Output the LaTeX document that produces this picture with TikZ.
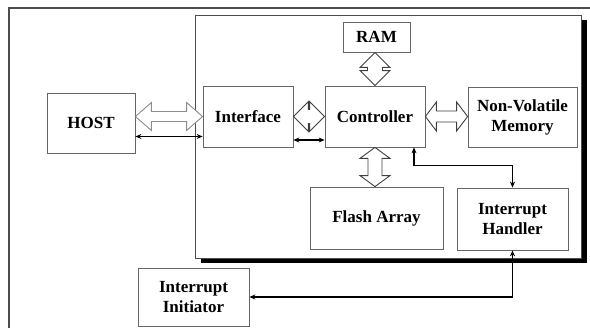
\documentclass[tikz,border=0pt]{standalone}
\usepackage{fontspec}
\setmainfont{Liberation Serif}
\usetikzlibrary{arrows.meta,calc}
\tikzset{
  blk/.style={draw=black!60, line width=0.8pt, minimum width=#1, inner sep=0pt, align=center,
     font=\fontsize{17}{20}\selectfont\bfseries},
  hollow/.style={draw=black!75, line width=0.9pt, line join=miter, fill=white},
  wire/.style={draw=black, line width=1.3pt, {Stealth[length=6pt,width=5pt]}-{Stealth[length=6pt,width=5pt]}},
}
% hollow horizontal double arrow: left point, right point, head half, shaft half, head length
\newcommand\hollowH[6][]{%
  \draw[hollow,#1] let \p1=(#2), \p2=(#3) in
   (\x1,\y1) -- ({\x1+#6},{\y1+#4}) -- ({\x1+#6},{\y1+#5}) -- ({\x2-#6},{\y1+#5}) -- ({\x2-#6},{\y1+#4})
   -- (\x2,\y1) -- ({\x2-#6},{\y1-#4}) -- ({\x2-#6},{\y1-#5}) -- ({\x1+#6},{\y1-#5}) -- ({\x1+#6},{\y1-#4}) -- cycle;}
% hollow vertical double arrow: upper point, lower point, head half, shaft half, head length
\newcommand\hollowV[6][]{%
  \draw[hollow,#1] let \p1=(#2), \p2=(#3) in
   (\x1,\y1) -- ({\x1+#4},{\y1-#6}) -- ({\x1+#5},{\y1-#6}) -- ({\x1+#5},{\y2+#6}) -- ({\x1+#4},{\y2+#6})
   -- (\x1,\y2) -- ({\x1-#4},{\y2+#6}) -- ({\x1-#5},{\y2+#6}) -- ({\x1-#5},{\y1-#6}) -- ({\x1-#4},{\y1-#6}) -- cycle;}
\begin{document}
\begin{tikzpicture}[x=1pt,y=-1pt]
\useasboundingbox (0,0) rectangle (590,328);
% outer frame (cropped)
\draw[black!70, line width=1.2pt] (9,328) -- (9,8) -- (590,8);
% system box with shadow
\fill[black] (201,20) rectangle (587,263);
\filldraw[fill=white, draw=black!70, line width=0.9pt] (195,15) rectangle (581,258);
% blocks
\node[blk=88pt, minimum height=60pt] (host) at (91,123) {HOST};
\node[blk=90pt, minimum height=61pt] (iface) at (248,116.5) {Interface};
\node[blk=100pt, minimum height=61pt] (ctrl) at (375,116.5) {Controller};
\node[blk=67pt, minimum height=30pt] (ram) at (376.5,37) {RAM};
\node[blk=109pt, minimum height=60pt] (nvm) at (522.5,117) {Non-Volatile\\Memory};
\node[blk=133pt, minimum height=62pt] (flash) at (376.5,218) {Flash Array};
\node[blk=111pt, minimum height=62pt] (ih) at (512.5,219) {Interrupt\\Handler};
\node[blk=111pt, minimum height=58pt] (ii) at (193.5,297) {Interrupt\\Initiator};
% hollow bus arrows
\hollowH[draw=black!45]{host.east |- iface.west}{iface.west}{14pt}{5pt}{16pt}
\hollowH{iface.east}{ctrl.west}{15pt}{7pt}{15pt}
\hollowH{ctrl.east}{nvm.west |- ctrl.east}{14.5pt}{5.5pt}{11pt}
\hollowV{ram.south -| ctrl.north}{ctrl.north}{15pt}{7.5pt}{15pt}
\hollowV{ctrl.south}{ctrl.south |- flash.north}{15pt}{7pt}{11pt}
% black signal lines
\coordinate (hl) at ([yshift=-20pt]iface.west);
\draw[wire] (hl -| host.east) -- (hl);
\coordinate (cl) at ([yshift=-23.5pt]ctrl.west);
\draw[wire] (cl -| iface.east) -- (cl);
\draw[wire] ([xshift=39pt]ctrl.south) -- ++(0,18) -| (ih.north);
\draw[wire] (ih.south) |- (ii.east);
\end{tikzpicture}
\end{document}
